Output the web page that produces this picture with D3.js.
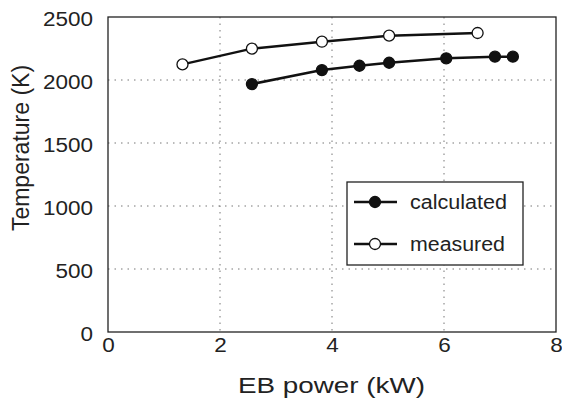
<!DOCTYPE html>
<html>
<head>
<meta charset="utf-8">
<script src="https://cdn.jsdelivr.net/npm/d3@7"></script>
<style>
  body { margin: 0; background: #fff; }
  text { font-family: "Liberation Sans", Arial, sans-serif; fill: #222; }
</style>
</head>
<body>
<svg id="chart"></svg>
<script>
// EB power (kW) and temperature (K)
const calcPower = [2.57, 3.82, 4.49, 5.02, 6.04, 6.91, 7.23];
const calcTemp = [1968, 2079, 2113, 2137, 2172, 2185, 2185];
const measPower = [1.33, 2.57, 3.82, 5.02, 6.60];
const measTemp = [2124, 2249, 2304, 2352, 2373];
const xTicks = [0, 2, 4, 6, 8];
const yTicks = [0, 500, 1000, 1500, 2000, 2500];

const width = 562, height = 406;
const margin = { top: 17, right: 6, bottom: 74, left: 108 };
const innerW = width - margin.left - margin.right;
const innerH = height - margin.top - margin.bottom;

// the scanned figure is a little wider than tall, so glyphs get stretched
const digitW = 12.5;

const svg = d3.select('#chart')
  .attr('width', width)
  .attr('height', height);

const g = svg.append('g')
  .attr('transform', `translate(${margin.left},${margin.top})`);

const x = d3.scaleLinear().domain([0, 8]).range([0, innerW]);
const y = d3.scaleLinear().domain([0, 2500]).range([innerH, 0]);

// dotted grid
g.append('g')
  .selectAll('line')
  .data(xTicks.slice(1, -1))
  .join('line')
  .attr('x1', d => x(d)).attr('x2', d => x(d))
  .attr('y1', 0).attr('y2', innerH)
  .attr('stroke', '#777').attr('stroke-width', 1)
  .attr('stroke-dasharray', '1.5,5');

g.append('g')
  .selectAll('line')
  .data(yTicks.slice(1, -1))
  .join('line')
  .attr('x1', 0).attr('x2', innerW)
  .attr('y1', d => y(d)).attr('y2', d => y(d))
  .attr('stroke', '#777').attr('stroke-width', 1)
  .attr('stroke-dasharray', '1.5,5');

// axes
const xAxis = d3.axisBottom(x).tickValues(xTicks).tickFormat(d3.format('d')).tickSize(0).tickPadding(6);
const yAxis = d3.axisLeft(y).tickValues(yTicks).tickFormat(d3.format('d')).tickSize(0).tickPadding(15);

g.append('g')
  .attr('transform', `translate(0,${innerH})`)
  .call(xAxis)
  .call(a => a.select('.domain').remove())
  .selectAll('text')
  .attr('font-size', 20)
  .attr('fill', '#222')
  .attr('textLength', function () { return this.textContent.length * digitW; })
  .attr('lengthAdjust', 'spacingAndGlyphs');

g.append('g')
  .call(yAxis)
  .call(a => a.select('.domain').remove())
  .selectAll('text')
  .attr('font-size', 20)
  .attr('fill', '#222')
  .attr('y', 2)
  .attr('textLength', function () { return this.textContent.length * digitW; })
  .attr('lengthAdjust', 'spacingAndGlyphs');

// frame
g.append('rect')
  .attr('width', innerW).attr('height', innerH)
  .attr('fill', 'none')
  .attr('stroke', '#222').attr('stroke-width', 1.3);

// axis titles
svg.append('text')
  .attr('x', 238)
  .attr('y', 393)
  .attr('font-size', 22)
  .attr('textLength', 187)
  .attr('lengthAdjust', 'spacingAndGlyphs')
  .text('EB power (kW)');

svg.append('text')
  .attr('transform', 'translate(29,148) rotate(-90)')
  .attr('text-anchor', 'middle')
  .attr('font-size', 23)
  .text('Temperature (K)');

// series
const line = d3.line().x(d => x(d[0])).y(d => y(d[1]));
const series = [
  { name: 'calculated', data: d3.zip(calcPower, calcTemp), fill: '#111', len: 97 },
  { name: 'measured', data: d3.zip(measPower, measTemp), fill: '#fff', len: 95 }
];

series.forEach(s => {
  g.append('path')
    .datum(s.data)
    .attr('d', line)
    .attr('fill', 'none')
    .attr('stroke', '#111')
    .attr('stroke-width', 2.5);

  g.selectAll(null)
    .data(s.data)
    .join('circle')
    .attr('cx', d => x(d[0]))
    .attr('cy', d => y(d[1]))
    .attr('r', 5.5)
    .attr('fill', s.fill)
    .attr('stroke', '#111')
    .attr('stroke-width', 1.3);
});

// legend
const legend = svg.append('g').attr('transform', 'translate(347,182)');
legend.append('rect')
  .attr('width', 176).attr('height', 83)
  .attr('fill', '#fff')
  .attr('stroke', '#222').attr('stroke-width', 1.3);

series.forEach((s, i) => {
  const row = legend.append('g').attr('transform', `translate(0,${20 + i * 42})`);
  row.append('line')
    .attr('x1', 7).attr('x2', 50)
    .attr('stroke', '#111').attr('stroke-width', 2.5);
  row.append('circle')
    .attr('cx', 28).attr('r', 5.5)
    .attr('fill', s.fill)
    .attr('stroke', '#111').attr('stroke-width', 1.3);
  row.append('text')
    .attr('x', 63).attr('dy', '0.35em')
    .attr('font-size', 20)
    .attr('textLength', s.len)
    .attr('lengthAdjust', 'spacingAndGlyphs')
    .text(s.name);
});
</script>
</body>
</html>
